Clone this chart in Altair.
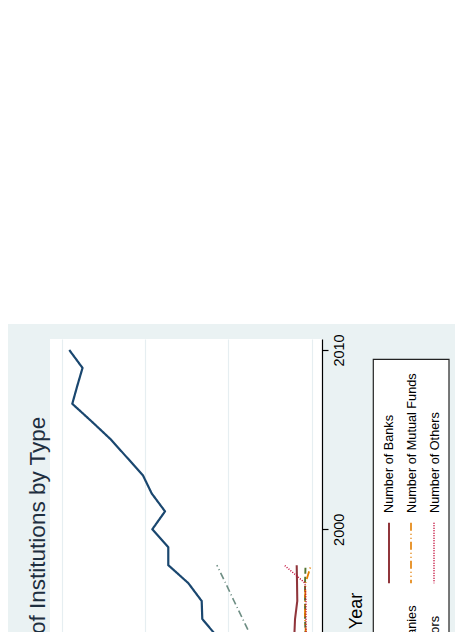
import altair as alt
import pandas as pd

FONT = "Liberation Sans"

# ---------------- data ----------------
series_names = [
    "Number of Brokers",
    "Number of Banks",
    "Number of Insurance Companies",
    "Number of Mutual Funds",
    "Number of Investment Advisors",
    "Number of Others",
]
series_colors = ["#1a476f", "#90353b", "#55752f", "#e37e00", "#6e8e84", "#c10534"]
series_dashes = [[1, 0], [1, 0], [6, 3], [8, 3, 1, 3, 1, 3], [7, 3, 1, 3], [1, 1.5]]
series_widths = [2.2, 1.5, 1.5, 1.5, 1.5, 1.3]

years_long = list(range(1993, 2011))
brokers = [956, 1133, 1313, 1320, 1481, 1721, 1721, 1913, 1760, 1920,
           2024, 2216, 2408, 2637, 2873, 2813, 2750, 2909]

years_short = list(range(1993, 1999))
banks = [212, 209, 200, 173, 176, 180]
insurance = [74, 74, 80, 80, 80, 74]
mutual_funds = [68, 68, 80, 80, 74, 8]
advisors = [620, 724, 828, 932, 1033, 1138]
others = [68, 68, 68, 68, 80, 329]

grid_values = [0, 1000, 2000, 3000]
year_ticks = [2000, 2010]

rows = []
for y, v in zip(years_long, brokers):
    rows.append({"series": series_names[0], "year": y, "value": v})
for name, vals in zip(series_names[1:], [banks, insurance, mutual_funds, advisors, others]):
    for y, v in zip(years_short, vals):
        rows.append({"series": name, "year": y, "value": v})
df = pd.DataFrame(rows)

one = pd.DataFrame({"k": [0]})

# ---------------- main lines ----------------
lines = alt.Chart(df).mark_line(strokeJoin="round").encode(
    x=alt.X(
        "value:Q",
        scale=alt.Scale(domain=[-123.6, 3140.4], reverse=True, nice=False, zero=False),
        axis=alt.Axis(values=grid_values, grid=True, gridColor="#E6EEF1", gridWidth=1.2,
                      labels=False, ticks=False, domain=False, title=None),
    ),
    y=alt.Y(
        "year:Q",
        scale=alt.Scale(domain=[1994.272, 2010.6135], nice=False, zero=False),
        axis=alt.Axis(
            orient="right", values=year_ticks, format="d", grid=False,
            domainColor="#000000", domainWidth=1.2, tickColor="#000000", tickSize=6, tickWidth=1.2,
            labelAngle=270, labelAlign="center", labelBaseline="top", labelPadding=4,
            labelFontSize=14.5, labelFont=FONT, labelColor="#000000",
            title="Year", titleAngle=270, titleAlign="center", titleBaseline="alphabetic",
            titleX=39.7, titleY=271.5, titleFontSize=18, titleFont=FONT,
            titleFontWeight="normal", titleColor="#000000",
        ),
    ),
    color=alt.Color("series:N", scale=alt.Scale(domain=series_names, range=series_colors), legend=None),
    strokeDash=alt.StrokeDash("series:N", scale=alt.Scale(domain=series_names, range=series_dashes), legend=None),
    strokeWidth=alt.StrokeWidth("series:N", scale=alt.Scale(domain=series_names, range=series_widths), legend=None),
    order=alt.Order("year:Q"),
)

# ---------------- decorations ----------------
top_white = alt.Chart(one).mark_rect(color="#FFFFFF").encode(
    x=alt.value(-42), x2=alt.value(413), y=alt.value(-340), y2=alt.value(-15)
)

title = alt.Chart(one).mark_text(
    text="Number of Institutions by Type", angle=270, align="right", baseline="alphabetic",
    fontSize=22.5, font=FONT, color="#1e2f40"
).encode(x=alt.value(-5), y=alt.value(77.7))

legend_box = alt.Chart(one).mark_rect(fill="#FFFFFF", stroke="#222222", strokeWidth=1.2).encode(
    x=alt.value(323.3), x2=alt.value(399), y=alt.value(20.3), y2=alt.value(420)
)

key_layers = []
key_specs = [(1, 339), (3, 361), (5, 384)]
for idx, kx in key_specs:
    key_layers.append(
        alt.Chart(one).mark_rule(
            color=series_colors[idx], strokeDash=series_dashes[idx],
            strokeWidth=2 if idx == 1 else 1.6
        ).encode(x=alt.value(kx), y=alt.value(183.7), y2=alt.value(244.3))
    )

label_specs = [
    (series_names[1], 343.3, 174, "left"),
    (series_names[3], 366, 174, "left"),
    (series_names[5], 388.7, 174, "left"),
    (series_names[2], 366, 266.5, "right"),
    (series_names[4], 388.7, 277, "right"),
    (series_names[0], 343.3, 461, "left"),
]
label_layers = []
for txt, lx, ly, al in label_specs:
    label_layers.append(
        alt.Chart(one).mark_text(
            text=txt, angle=270, align=al, baseline="alphabetic",
            fontSize=12.7, font=FONT, color="#000000"
        ).encode(x=alt.value(lx), y=alt.value(ly))
    )

chart = alt.layer(top_white, lines, title, legend_box, *key_layers, *label_layers).properties(
    width=272,
    height=293,
    autosize=alt.AutoSizeParams(type="none"),
    padding={"left": 42, "top": 331, "right": 133, "bottom": 0},
    background="#EAF2F3",
).configure_view(fill="#FFFFFF", stroke=None)

chart.save("out.html", embed_options={"renderer": "svg", "actions": False})
